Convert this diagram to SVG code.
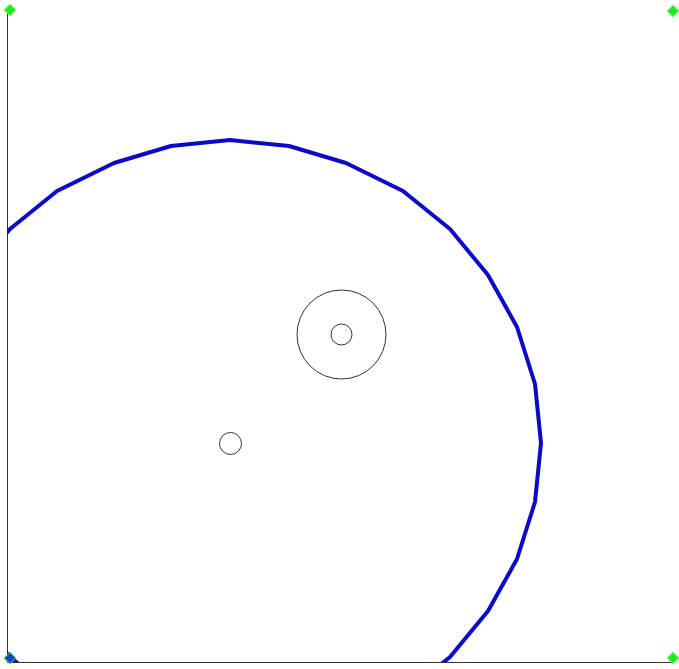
<svg xmlns="http://www.w3.org/2000/svg" width="679" height="669" viewBox="0 0 679 669">
<style>
.axis{stroke:#333;stroke-width:1;fill:none}
.ring{stroke:#333;stroke-width:1;fill:none}
.path{stroke:#0a0acc;stroke-width:4;fill:none;stroke-linejoin:round}
.mark{fill:#22e622;stroke:#5f5;stroke-width:1}
.mark2{fill:#1040cc;stroke:#4c4;stroke-width:1}
</style>
<defs>
<clipPath id="clip"><rect x="7" y="0" width="672" height="662"/></clipPath>
<rect id="dm" x="-4" y="-4" width="8" height="8" transform="rotate(45)"/>
</defs>
<rect width="679" height="669" fill="#fff"/>
<g id="frame">
<line class="axis" x1="7.5" y1="12" x2="7.5" y2="662.5"/>
<line class="axis" x1="7.5" y1="662.5" x2="673" y2="662.5"/>
</g>
<g id="boundary" clip-path="url(#clip)">
<polygon class="path" points="230,140 289,146 346,163 403,191 450,229 488,275 517,327 535,384 541,443 535,502 517,559 488,611 450,657 403,695 346,723 289,740 230,746 171,740 114,723 57,695 10,657 -28,611 -57,559 -75,502 -81,443 -75,384 -57,327 -28,275 10,229 57,191 114,163 171,146"/>
</g>
<g id="ringOuter"><circle class="ring" cx="341.5" cy="334.5" r="44.5"/></g>
<g id="ringInner"><circle class="ring" cx="341.5" cy="334.5" r="10.5"/></g>
<g id="center"><circle class="ring" cx="230.5" cy="443.5" r="11"/></g>
<g id="markers">
<use href="#dm" class="mark" transform="translate(10,10)"/>
<use href="#dm" class="mark" transform="translate(673,11)"/>
<use href="#dm" class="mark2" transform="translate(10,658)"/>
<use href="#dm" class="mark" transform="translate(673,658)"/>
</g>
</svg>
